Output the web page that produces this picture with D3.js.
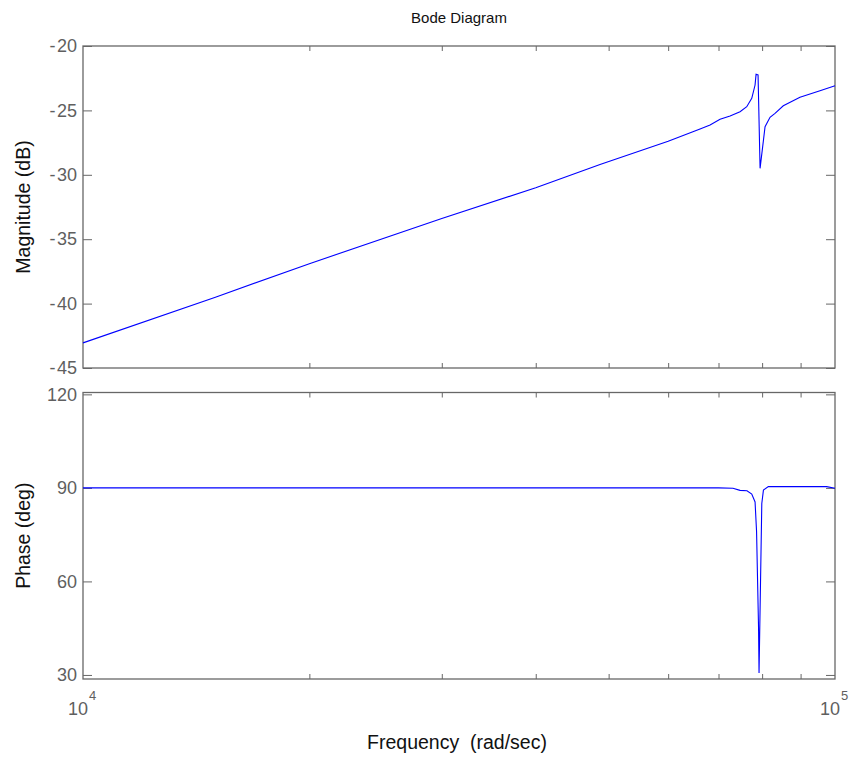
<!DOCTYPE html>
<html>
<head>
<meta charset="utf-8">
<script src="https://cdn.jsdelivr.net/npm/d3@7"></script>
<style>
  html, body { margin: 0; padding: 0; background: #fff; }
  svg { display: block; font-family: "Liberation Sans", Arial, sans-serif; }
</style>
</head>
<body>
<svg id="chart" width="852" height="757"></svg>
<script>
// ---- data ----
const magFreq = [10000, 15000, 20000, 30000, 40000, 48700, 60000, 66150, 68210, 70330, 72520, 74770, 76320, 77500, 78290, 78530, 79010, 79500, 80720, 81960, 83220, 85360, 89830, 95510, 100000];
const magDb   = [-43.05, -39.5, -36.9, -33.4, -31.0, -29.2, -27.4, -26.44, -26.13, -25.69, -25.43, -25.10, -24.71, -24.06, -23.03, -22.20, -22.25, -29.50, -26.27, -25.54, -25.23, -24.64, -23.98, -23.47, -23.08];

const phaseFreq = [10000, 30000, 50000, 70000, 73170, 74770, 76380, 77500, 78290, 78650, 79130, 79250, 79920, 80320, 81540, 97480, 100000];
const phaseDeg  = [90.0, 90.0, 90.0, 90.0, 89.9, 89.2, 89.1, 88.0, 85.5, 76.0, 45.0, 30.6, 85.0, 89.3, 90.4, 90.4, 89.9];

const magTicks = [-45, -40, -35, -30, -25, -20];
const phaseTicks = [30, 60, 90, 120];
const minorFreqTicks = [20000, 30000, 40000, 50000, 60000, 70000, 80000, 90000];
const majorFreqTicks = [{base: "10", exp: "4", v: 10000}, {base: "10", exp: "5", v: 100000}];

const titleText = "Bode Diagram";
const magLabel = "Magnitude (dB)";
const phaseLabel = "Phase (deg)";
const xLabel = "Frequency  (rad/sec)";

// ---- layout ----
const svg = d3.select("#chart");
const L = 83, R = 835;
const top1 = 46, bot1 = 368;
const top2 = 392.5, bot2 = 679;
const axisColor = "#676767";
const tickLabelColor = "#5f5f5f";

const x = d3.scaleLog().domain([1e4, 1e5]).range([L, R]);
const yMag = d3.scaleLinear().domain([-45, -20]).range([bot1, top1]);
const yPh = d3.scaleLinear().domain([28.7, 120.6]).range([bot2, top2]);

function panel(y, yTicks, yTop, yBot, fmt) {
  const g = svg.append("g");
  const la = g.append("g").attr("transform", `translate(${L},0)`)
    .call(d3.axisLeft(y).tickValues(yTicks).tickSize(-9).tickPadding(6).tickFormat(fmt));
  const ra = g.append("g").attr("transform", `translate(${R},0)`)
    .call(d3.axisRight(y).tickValues(yTicks).tickSize(-9).tickFormat(""));
  const ta = g.append("g").attr("transform", `translate(0,${yTop})`)
    .call(d3.axisTop(x).tickValues(minorFreqTicks).tickSize(-5).tickFormat(""));
  const ba = g.append("g").attr("transform", `translate(0,${yBot})`)
    .call(d3.axisBottom(x).tickValues(minorFreqTicks).tickSize(-5).tickFormat(""));
  [la, ra, ta, ba].forEach(a => {
    a.select(".domain").remove();
    a.selectAll("line").attr("stroke", axisColor).attr("stroke-width", 1);
    a.selectAll("text").attr("fill", tickLabelColor).style("font-size", "18px").style("font-family", '"Liberation Sans", Arial, sans-serif');
  });
  g.append("rect").attr("x", L).attr("y", yTop).attr("width", R - L).attr("height", yBot - yTop)
    .attr("fill", "none").attr("stroke", axisColor).attr("stroke-width", 1.3);
  return g;
}

panel(yMag, magTicks, top1, bot1, d => d3.format("d")(d).replace("−", "-\u200a"));
panel(yPh, phaseTicks, top2, bot2, d3.format("d"));

// data lines
const magLine = d3.line().x((d, i) => x(magFreq[i])).y(d => yMag(d));
svg.append("path").datum(magDb).attr("d", magLine)
  .attr("fill", "none").attr("stroke", "#0000ff").attr("stroke-width", 1.1);

const phLine = d3.line().x((d, i) => x(phaseFreq[i])).y(d => yPh(d));
svg.append("path").datum(phaseDeg).attr("d", phLine)
  .attr("fill", "none").attr("stroke", "#0000ff").attr("stroke-width", 1.1);

// major x labels 10^n
majorFreqTicks.forEach(t => {
  const px = x(t.v);
  svg.append("text").attr("x", px + 5).attr("y", 715).attr("text-anchor", "end")
    .attr("fill", tickLabelColor).style("font-size", "18px").text(t.base);
  svg.append("text").attr("x", px + 6).attr("y", 700).attr("text-anchor", "start")
    .attr("fill", tickLabelColor).style("font-size", "13px").text(t.exp);
});

// titles
svg.append("text").attr("x", 459).attr("y", 23).attr("text-anchor", "middle")
  .attr("fill", "#111").style("font-size", "15px").text(titleText);
svg.append("text").attr("transform", `translate(30,${(top1 + bot1) / 2}) rotate(-90)`)
  .attr("text-anchor", "middle").attr("fill", "#111").style("font-size", "19.5px").text(magLabel);
svg.append("text").attr("transform", `translate(30,${(top2 + bot2) / 2}) rotate(-90)`)
  .attr("text-anchor", "middle").attr("fill", "#111").style("font-size", "19.5px").text(phaseLabel);
svg.append("text").attr("x", 457).attr("y", 749).attr("text-anchor", "middle")
  .attr("fill", "#111").style("font-size", "19.5px").style("white-space", "pre").text(xLabel);
</script>
</body>
</html>
